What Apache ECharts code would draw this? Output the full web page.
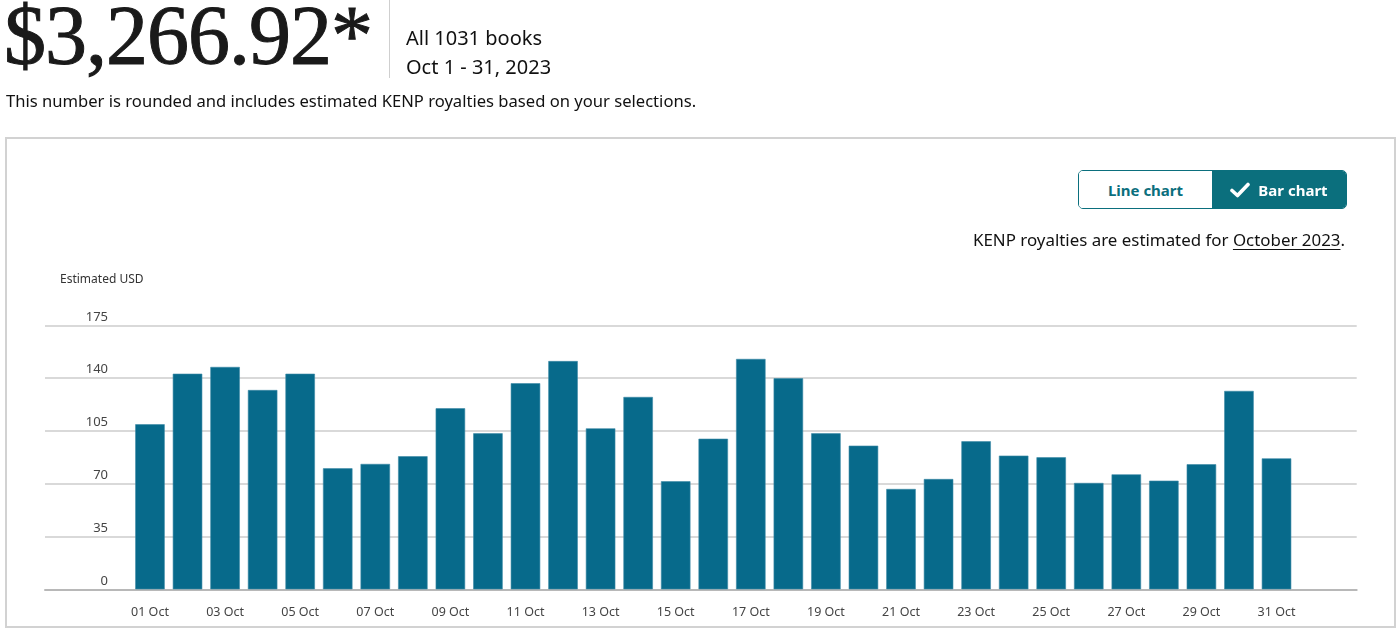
<!DOCTYPE html>
<html>
<head>
<meta charset="utf-8">
<script src="https://cdn.jsdelivr.net/npm/echarts@6/dist/echarts.min.js"></script>
<style>
  html, body { margin:0; padding:0; background:#fff; }
  body { width:1400px; height:636px; position:relative; overflow:hidden; font-family:"Noto Sans", sans-serif; color:#111; }
  #chart { position:absolute; left:0; top:0; width:1400px; height:636px; z-index:1; }
  .abs { position:absolute; z-index:2; white-space:nowrap; }
  #big { left:4px; top:-14px; font-family:"Liberation Serif", serif; font-size:84px; line-height:100px; color:#1a1a1a; letter-spacing:-1px; -webkit-text-stroke:1px #1a1a1a; }
  #sep { left:389px; top:0; width:1px; height:78px; background:#cfcfcf; }
  #info1 { left:406px; top:25px; font-size:20px; line-height:26px; color:#111; }
  #info2 { left:406px; top:54px; font-size:20px; line-height:26px; color:#111; }
  #note { left:6px; top:90px; font-size:16.6px; line-height:22px; color:#111; }
  #panel { position:absolute; left:5px; top:137px; width:1387px; height:487px; border:2px solid #d2d2d2; z-index:0; }
  #btns { left:1078px; top:170px; width:269px; height:39px; display:flex; border-radius:5px; overflow:hidden; box-sizing:border-box; border:1px solid #0b6f7d; }
  #btnLine { width:133px; height:100%; background:#fff; color:#0b6f7d; font-weight:700; font-size:15px; display:flex; align-items:center; justify-content:center; }
  #btnBar { flex:1; height:100%; background:#0b6f7d; color:#fff; font-weight:700; font-size:15px; display:flex; align-items:center; justify-content:center; gap:8px; }
  #kenp { right:55px; top:229px; font-size:16.9px; line-height:22px; color:#111; }
  #kenp u { text-decoration:underline; text-underline-offset:3px; }
  #ylab { left:60px; top:271px; font-size:12px; line-height:16px; color:#333; }
</style>
</head>
<body>
<div id="panel"></div>
<div id="chart"></div>
<div class="abs" id="big">$3,266.92*</div>
<div class="abs" id="sep"></div>
<div class="abs" id="info1">All 1031 books</div>
<div class="abs" id="info2">Oct 1 - 31, 2023</div>
<div class="abs" id="note">This number is rounded and includes estimated KENP royalties based on your selections.</div>
<div class="abs" id="btns">
  <div id="btnLine">Line chart</div>
  <div id="btnBar"><svg width="20" height="16" viewBox="0 0 20 16"><path d="M2 8.5 L7.5 13.5 L18 2.5" fill="none" stroke="#fff" stroke-width="3.6" stroke-linecap="round" stroke-linejoin="round"/></svg><span>Bar chart</span></div>
</div>
<div class="abs" id="kenp">KENP royalties are estimated for <u>October 2023</u>.</div>
<div class="abs" id="ylab">Estimated USD</div>
<script>
const days = ["01 Oct","02 Oct","03 Oct","04 Oct","05 Oct","06 Oct","07 Oct","08 Oct","09 Oct","10 Oct",
              "11 Oct","12 Oct","13 Oct","14 Oct","15 Oct","16 Oct","17 Oct","18 Oct","19 Oct","20 Oct",
              "21 Oct","22 Oct","23 Oct","24 Oct","25 Oct","26 Oct","27 Oct","28 Oct","29 Oct","30 Oct","31 Oct"];
const royalties = [109.4,142.9,147.4,132.1,142.9,80.2,83.1,88.2,120.0,103.4,
                   136.6,151.3,106.7,127.5,71.6,99.8,152.7,139.9,103.4,95.2,
                   66.5,73.1,98.1,88.6,87.5,70.5,76.2,72.0,82.9,131.5,86.8];
const yTicks = { min: 0, max: 175, interval: 35 };

const chart = echarts.init(document.getElementById('chart'), null, { renderer: 'canvas' });
chart.setOption({
  animation: false,
  backgroundColor: 'transparent',
  grid: [
    { left: 45, right: 43.3, top: 325.3, bottom: 46.7 },
    { left: 131.2, right: 104.7, top: 325.3, bottom: 46.7 }
  ],
  xAxis: [
    { gridIndex: 0, type: 'value', min: 0, max: 1, axisLabel: { show: false }, splitLine: { show: false },
      axisTick: { show: false }, axisLine: { show: true, lineStyle: { color: '#b8b8b8', width: 2 } } },
    { gridIndex: 1, type: 'category', data: days, axisLine: { show: false }, axisTick: { show: false },
      axisLabel: { interval: 1, color: '#444', fontSize: 12.5, fontFamily: 'Noto Sans', margin: 17 } }
  ],
  yAxis: [
    { gridIndex: 0, type: 'value', min: yTicks.min, max: yTicks.max, interval: yTicks.interval,
      axisLine: { show: false }, axisTick: { show: false },
      splitLine: { lineStyle: { color: '#cccccc', width: 1.5 } },
      axisLabel: { inside: true, margin: 63, align: 'right', verticalAlign: 'bottom', padding: [0, 0, 2, 0],
                   color: '#444', fontSize: 13, fontFamily: 'Noto Sans' } },
    { gridIndex: 1, type: 'value', min: yTicks.min, max: yTicks.max, interval: yTicks.interval, show: false }
  ],
  series: [
    { type: 'bar', xAxisIndex: 1, yAxisIndex: 1, data: royalties, barWidth: '78.5%',
      itemStyle: { color: '#076a8b', borderColor: '#3d8aa6', borderWidth: 0.6 } }
  ]
});
</script>
</body>
</html>
